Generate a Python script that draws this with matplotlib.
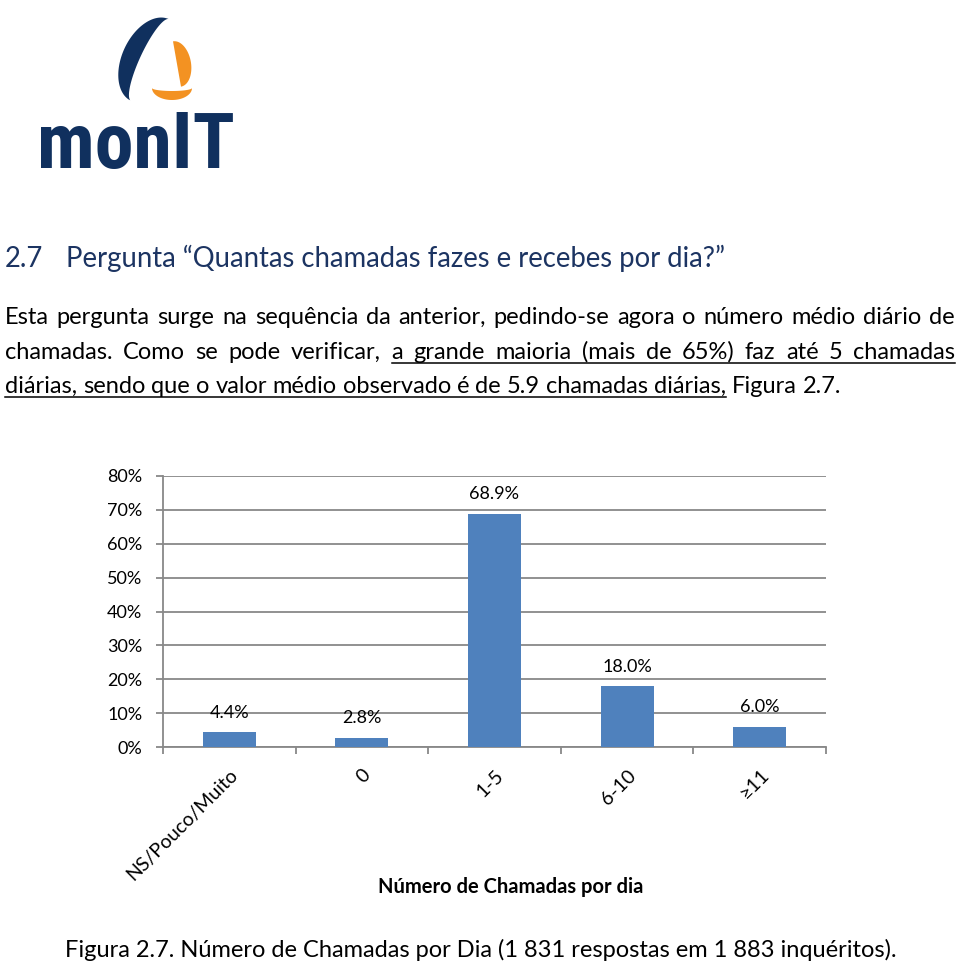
import numpy as np
import matplotlib
matplotlib.use("Agg")
import matplotlib.pyplot as plt
from matplotlib import font_manager
from matplotlib.patches import Polygon
from matplotlib.ticker import FuncFormatter, FixedLocator

# chart data
categories = ['NS/Pouco/Muito', '0', '1-5', '6-10', '≥11']
values = [4.4, 2.8, 68.9, 18.0, 6.0]
yticks = [0, 10, 20, 30, 40, 50, 60, 70, 80]

# page text
heading_num = '2.7'
heading = 'Pergunta \u201cQuantas chamadas fazes e recebes por dia?\u201d'
para_lines = [
    'Esta pergunta surge na sequência da anterior, pedindo-se agora o número médio diário de',
    'chamadas.  Como se pode verificar, a grande maioria (mais de 65%) faz até 5 chamadas',
    'diárias, sendo que o valor médio observado é de 5.9 chamadas diárias, Figura 2.7.',
]
# words (by index) underlined on each line
underlined = [None, (5, None), (0, 12)]
xlabel = 'Número de Chamadas por dia'
caption = 'Figura 2.7. Número de Chamadas por Dia (1 831 respostas em 1 883 inquéritos).'
logo_text = 'monIT'


def pick_font(names):
    for n in names:
        try:
            font_manager.findfont(font_manager.FontProperties(family=n), fallback_to_default=False)
            return n
        except Exception:
            pass
    return 'DejaVu Sans'


body = pick_font(['Lato', 'Open Sans', 'DejaVu Sans'])
logo_font = pick_font(['Roboto Condensed', 'Roboto', 'DejaVu Sans'])
plt.rcParams['font.family'] = [body, 'DejaVu Sans']

navy = '#10305e'
orange = '#f39222'
bar_col = '#4f81bd'
grid_col = '#888888'
head_col = '#1c3462'

fig = plt.figure(figsize=(9.6, 9.68), dpi=100)
page = fig.add_axes([0, 0, 1, 1])
page.set_xlim(0, 960)
page.set_ylim(968, 0)
page.axis('off')
renderer = fig.canvas.get_renderer()


# --- logo ---
def crescent(cx, cy, a, b, b2, ang, t0, t1):
    t = np.radians(np.linspace(t0, t1, 120))
    th = np.radians(ang)
    pts = []
    for bb, tt in ((b, t), (b2, t[::-1])):
        p = bb * np.cos(tt)
        q = a * np.sin(tt)
        x = cx + p * np.cos(th) - q * np.sin(th)
        y = cy + p * np.sin(th) + q * np.cos(th)
        pts.append(np.column_stack([x, y]))
    return np.vstack(pts)


page.add_patch(Polygon(crescent(150, 60, 45, 28, 10, 25, -92, -265), closed=True,
                       fc=navy, ec='none'))
page.add_patch(Polygon(crescent(177, 64, 23, 14, 0, -10, -90, 90), closed=True,
                       fc=orange, ec='none'))
page.add_patch(Polygon(crescent(172, 88, 20, 12, 3, 90, -90, 90), closed=True,
                       fc=orange, ec='none'))
page.text(37, 168, logo_text, fontsize=56, color=navy, family=logo_font,
          fontweight='bold', va='baseline', ha='left')

# --- heading ---
page.text(5, 267, heading_num, fontsize=19.8, color=head_col, va='baseline')
page.text(66, 267, heading, fontsize=19.8, color=head_col, va='baseline')

# --- paragraph, lines 1-2 justified ---
baselines = [324, 359, 393]
x0, x1 = 5, 955
fs = 17
for i, line in enumerate(para_lines):
    words = line.split()
    txts = [page.text(0, baselines[i], w, fontsize=fs, va='baseline') for w in words]
    widths = [t.get_window_extent(renderer).width for t in txts]
    if i < 2:
        gap = (x1 - x0 - sum(widths)) / (len(words) - 1)
    else:
        gap = fs * 0.25 * 100 / 72
    x = x0
    starts = []
    for t, w in zip(txts, widths):
        t.set_x(x)
        starts.append((x, x + w))
        x += w + gap
    if underlined[i] is not None:
        a, b = underlined[i]
        b = len(words) if b is None else b
        page.plot([starts[a][0], starts[b - 1][1]], [baselines[i] + 3.5] * 2,
                  color='black', lw=1.1)

# --- chart ---
ax = fig.add_axes([163 / 960, (968 - 747) / 968, 663 / 960, 271 / 968])
x = np.arange(len(categories))
bars = ax.bar(x, values, width=0.4, color=bar_col, zorder=3)
ax.set_xlim(-0.5, len(categories) - 0.5)
ax.set_ylim(0, 80)
ax.set_yticks(yticks)
ax.yaxis.set_major_formatter(FuncFormatter(lambda v, p: '%d%%' % v))
ax.grid(axis='y', color=grid_col, lw=1.3, zorder=0)
for s in ['top', 'right']:
    ax.spines[s].set_visible(False)
for s in ['left', 'bottom']:
    ax.spines[s].set_color(grid_col)
    ax.spines[s].set_linewidth(1.3)
ax.tick_params(axis='y', length=5, width=1.3, color=grid_col, labelsize=13, pad=10)
ax.set_xticks(x)
ax.set_xticklabels(categories, rotation=45, ha='right', rotation_mode='anchor',
                   fontsize=14)
ax.tick_params(axis='x', which='major', length=0, pad=14)
ax.xaxis.set_minor_locator(FixedLocator(np.arange(-0.5, len(categories), 1)))
ax.tick_params(axis='x', which='minor', length=5, width=1.3, color=grid_col)
for b, v in zip(bars, values):
    ax.annotate('%.1f%%' % v, (b.get_x() + b.get_width() / 2, v),
                xytext=(0, 14), textcoords='offset points',
                ha='center', va='center', fontsize=13)

page.text(511, 887, xlabel, fontsize=14.5, fontweight='bold', ha='center', va='center')
page.text(65, 957, caption, fontsize=17, va='baseline')

fig.savefig('out.png', dpi=100)
